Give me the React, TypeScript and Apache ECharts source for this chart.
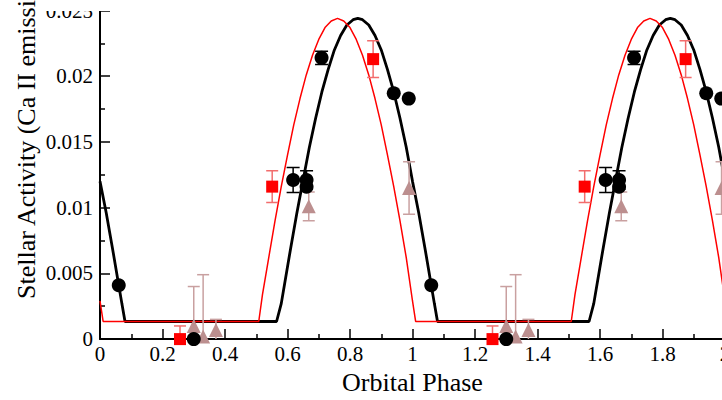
import React, { useEffect, useRef } from "react";
import * as echarts from "echarts";

const FONT = "Liberation Serif";

// Model curves over one orbital cycle (phase, Ca II activity)
const blackCurvePhase = [0, 0.02, 0.04, 0.06, 0.07, 0.08, 0.565, 0.58, 0.59, 0.61, 0.63, 0.65, 0.67, 0.69, 0.71, 0.73, 0.75, 0.77, 0.79, 0.81, 0.825, 0.84, 0.86, 0.88, 0.9, 0.92, 0.94, 0.96, 0.98, 1.0];
const blackCurveValue = [0.012, 0.0096, 0.0069, 0.0041, 0.0027, 0.00134, 0.00134, 0.0027, 0.0041, 0.0069, 0.0096, 0.0121, 0.0146, 0.0168, 0.0188, 0.0205, 0.022, 0.0231, 0.0239, 0.0243, 0.0244, 0.0243, 0.0239, 0.0231, 0.022, 0.0205, 0.0188, 0.0168, 0.0146, 0.012];

const redCurvePhase = [0, 0.01, 0.508, 0.52, 0.54, 0.56, 0.58, 0.6, 0.62, 0.64, 0.66, 0.68, 0.7, 0.72, 0.74, 0.76, 0.78, 0.8, 0.82, 0.84, 0.86, 0.88, 0.9, 0.92, 0.94, 0.96, 0.98, 1.0];
const redCurveValue = [0.0029, 0.00134, 0.00134, 0.0034, 0.0062, 0.009, 0.0116, 0.014, 0.0163, 0.0183, 0.0201, 0.0216, 0.0228, 0.0237, 0.0242, 0.0244, 0.0242, 0.0237, 0.0228, 0.0216, 0.0201, 0.0183, 0.0163, 0.014, 0.0116, 0.009, 0.0062, 0.0029];

// Observations (phase, value, error)
const blackPhase = [0.06, 0.3, 0.618, 0.661, 0.661, 0.709, 0.94, 0.988];
const blackValue = [0.0041, 0.0, 0.0121, 0.0121, 0.0116, 0.0214, 0.0187, 0.0183];
const blackError = [0, 0, 0.00095, 0.0007, 0, 0.0005, 0, 0];

const redPhase = [0.256, 0.551, 0.874];
const redValue = [0.0, 0.0116, 0.0213];
const redError = [0.001, 0.0012, 0.0014];

const triPhase = [0.3, 0.33, 0.371, 0.668, 0.989];
const triValue = [0.001, 0.0002, 0.0007, 0.0101, 0.0115];
const triError = [0.003, 0.0047, 0.0008, 0.0011, 0.002];

// Phase is plotted over two cycles
const cycleShifts = [0, 1];

// The drawing surface is a little wider than the window so that the
// phase-2 end of the axis runs just past the right edge.
const CHART_W = 760;
const CHART_H = 400;

function curveData(phases: number[], values: number[]) {
  const out: number[][] = [];
  for (const s of cycleShifts) phases.forEach((p, i) => out.push([p + s, values[i]]));
  return out;
}

function errorData(phases: number[], values: number[], errors: number[]) {
  const out: number[][] = [];
  for (const s of cycleShifts)
    phases.forEach((p, i) => {
      if (errors[i] > 0) out.push([p + s, values[i] - errors[i], values[i] + errors[i]]);
    });
  return out;
}

function errorBars(data: number[][], color: string, cap: number, width: number) {
  return {
    type: "custom",
    data,
    clip: true,
    z: 3,
    silent: true,
    renderItem: (_params: any, api: any) => {
      const x = api.value(0);
      const lo = api.coord([x, api.value(1)]);
      const hi = api.coord([x, api.value(2)]);
      const h = cap / 2;
      const style = { stroke: color, lineWidth: width };
      return {
        type: "group",
        children: [
          { type: "line", shape: { x1: lo[0], y1: lo[1], x2: hi[0], y2: hi[1] }, style },
          { type: "line", shape: { x1: hi[0] - h, y1: hi[1], x2: hi[0] + h, y2: hi[1] }, style },
          { type: "line", shape: { x1: lo[0] - h, y1: lo[1], x2: lo[0] + h, y2: lo[1] }, style },
        ],
      };
    },
  };
}

export default function App() {
  const ref = useRef<HTMLDivElement>(null);

  useEffect(() => {
    if (!ref.current) return;
    const chart = echarts.init(ref.current, undefined, { renderer: "svg" });
    const axisCommon = {
      axisLine: { show: true, onZero: false, lineStyle: { color: "#000", width: 2 } },
      axisTick: { show: true, inside: true, length: 10, lineStyle: { color: "#000", width: 1.5 } },
      minorTick: { show: true, splitNumber: 2, length: 5, lineStyle: { color: "#000", width: 1.5 } },
      splitLine: { show: false },
      minorSplitLine: { show: false },
    };
    chart.setOption({
      animation: false,
      backgroundColor: "#fff",
      textStyle: { fontFamily: FONT, color: "#000" },
      grid: { left: 100, right: 35, top: 8, bottom: 51, containLabel: false },
      xAxis: {
        type: "value",
        min: 0,
        max: 2,
        interval: 0.2,
        ...axisCommon,
        axisLabel: { fontFamily: FONT, fontSize: 21, color: "#000", margin: 4 },
        name: "Orbital Phase",
        nameLocation: "middle",
        nameGap: 25,
        nameTextStyle: { fontFamily: FONT, fontSize: 26, color: "#000" },
      },
      yAxis: {
        type: "value",
        min: 0,
        max: 0.025,
        interval: 0.005,
        ...axisCommon,
        axisLabel: { fontFamily: FONT, fontSize: 21, color: "#000", margin: 7 },
      },
      graphic: [
        {
          type: "rect",
          z: 100,
          shape: { x: 40, y: 0, width: CHART_W, height: 11 },
          style: { fill: "#fff" },
          silent: true,
        },
        {
          type: "text",
          z: 100,
          x: 26,
          y: 299,
          rotation: Math.PI / 2,
          style: {
            text: "Stellar Activity (Ca II emission)",
            font: `26px "${FONT}"`,
            fill: "#000",
            textAlign: "left",
            textVerticalAlign: "middle",
          },
          silent: true,
        },
      ],
      series: [
        {
          type: "line",
          data: curveData(blackCurvePhase, blackCurveValue),
          showSymbol: false,
          lineStyle: { color: "#000", width: 2.8 },
          z: 2,
        },
        {
          type: "line",
          data: curveData(redCurvePhase, redCurveValue),
          showSymbol: false,
          lineStyle: { color: "#ff0000", width: 1.5 },
          z: 2,
        },
        errorBars(errorData(blackPhase, blackValue, blackError), "#000", 13, 1.5),
        errorBars(errorData(redPhase, redValue, redError), "#f26d6d", 12, 1.5),
        errorBars(errorData(triPhase, triValue, triError), "#c9a0a0", 12, 1.5),
        {
          type: "scatter",
          data: curveData(triPhase, triValue),
          symbol: "triangle",
          symbolSize: 14,
          itemStyle: { color: "#bc8f8f", opacity: 1 },
          clip: false,
          z: 4,
        },
        {
          type: "scatter",
          data: curveData(redPhase, redValue),
          symbol: "rect",
          symbolSize: 12,
          itemStyle: { color: "#ff0000", opacity: 1 },
          clip: false,
          z: 4,
        },
        {
          type: "scatter",
          data: curveData(blackPhase, blackValue),
          symbol: "circle",
          symbolSize: 14,
          itemStyle: { color: "#000", opacity: 1 },
          clip: false,
          z: 5,
        },
      ],
    });
    return () => chart.dispose();
  }, []);

  return (
    <div
      ref={ref}
      style={{ position: "fixed", left: 0, top: 0, width: CHART_W, height: CHART_H, background: "#fff" }}
    />
  );
}
